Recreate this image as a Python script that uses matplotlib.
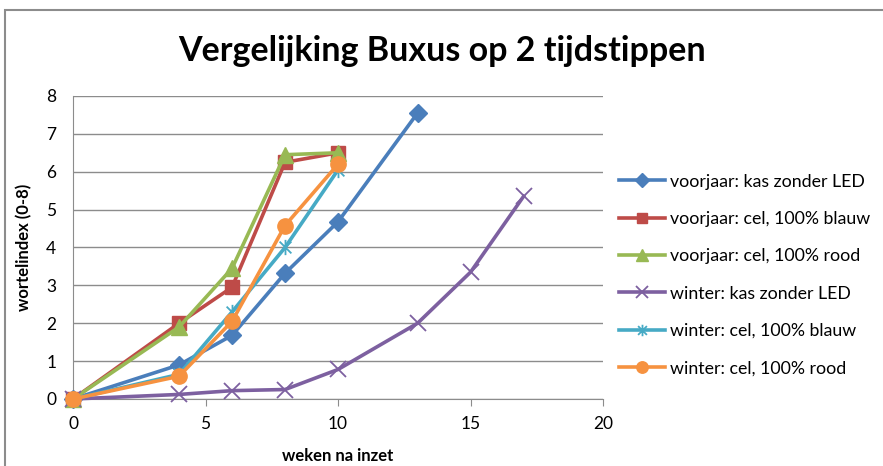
import matplotlib
matplotlib.use("Agg")
import matplotlib.pyplot as plt
from matplotlib.path import Path
from matplotlib.patches import Rectangle

plt.rcParams['font.family'] = ['Lato', 'DejaVu Sans']

# data
weeks_short = [0, 4, 6, 8, 10]
weeks_vj_kas = [0, 4, 6, 8, 10, 13]
weeks_w_kas = [0, 4, 6, 8, 10, 13, 15, 17]

vj_kas = [0, 0.9, 1.68, 3.32, 4.68, 7.55]
vj_blauw = [0, 2.0, 2.95, 6.25, 6.5]
vj_rood = [0, 1.9, 3.45, 6.45, 6.5]
w_kas = [0, 0.12, 0.22, 0.25, 0.78, 2.0, 3.35, 5.35]
w_blauw = [0, 0.65, 2.3, 4.0, 6.05]
w_rood = [0, 0.6, 2.05, 4.58, 6.2]

labels = ["voorjaar: kas zonder LED", "voorjaar: cel, 100% blauw",
          "voorjaar: cel, 100% rood", "winter: kas zonder LED",
          "winter: cel, 100% blauw", "winter: cel, 100% rood"]

# excel style star marker: x plus vertical bar
star = Path([(-1, -1), (1, 1), (-1, 1), (1, -1), (0, -1.3), (0, 1.3)],
            [Path.MOVETO, Path.LINETO, Path.MOVETO, Path.LINETO, Path.MOVETO, Path.LINETO])

series = [
    (weeks_vj_kas, vj_kas, "#4A7EBB", "D", 9),
    (weeks_short, vj_blauw, "#BE4B48", "s", 10),
    (weeks_short, vj_rood, "#98B954", "^", 11),
    (weeks_w_kas, w_kas, "#7D60A0", "x", 11),
    (weeks_short, w_blauw, "#46AAC5", star, 11),
    (weeks_short, w_rood, "#F69240", "o", 11),
]

fig = plt.figure(figsize=(8.83, 4.66), dpi=100)
ax = fig.add_axes([0.0827, 0.1438, 0.6003, 0.6502])

handles = []
for (x, y, c, m, ms), lab in zip(series, labels):
    mew = 1.3 if m in ("x",) or m is star else 1
    h, = ax.plot(x, y, color=c, lw=2.6, marker=m, markersize=ms,
                 markerfacecolor=c, markeredgecolor=c, markeredgewidth=mew,
                 label=lab, clip_on=False, zorder=3)
    handles.append(h)

ax.set_xlim(0, 20)
ax.set_ylim(0, 8)
ax.set_xticks([0, 5, 10, 15, 20])
ax.set_yticks(range(9))
ax.grid(axis='y', color='#8c8c8c', lw=1)
ax.set_axisbelow(True)
for s in ("top", "right"):
    ax.spines[s].set_visible(False)
for s in ("left", "bottom"):
    ax.spines[s].set_color('#8c8c8c')
ax.tick_params(axis='x', length=5, color='#8c8c8c', labelsize=12.5, pad=7)
ax.tick_params(axis='y', length=0, labelsize=12.5, pad=12)

ax.set_xlabel("weken na inzet", fontsize=12, fontweight='bold', labelpad=12)
ax.set_ylabel("wortelindex (0-8)", fontsize=12, fontweight='bold', labelpad=10)

fig.text(0.5, 0.89, "Vergelijking Buxus op 2 tijdstippen", ha='center', va='center',
         fontsize=24.5, fontweight='bold')

fig.legend(handles=handles, loc='center left', bbox_to_anchor=(0.683, 0.41),
           frameon=False, fontsize=12.8, labelspacing=1.2, handlelength=2.6,
           handletextpad=0.25, markerscale=0.75)

# chart frame
fig.patches.append(Rectangle((5 / 883, -0.1), 1.2, 1 - 10 / 466 + 0.1,
                             transform=fig.transFigure, fill=False,
                             edgecolor='#8c8c8c', lw=1.5))

fig.savefig("out.png", dpi=100)
